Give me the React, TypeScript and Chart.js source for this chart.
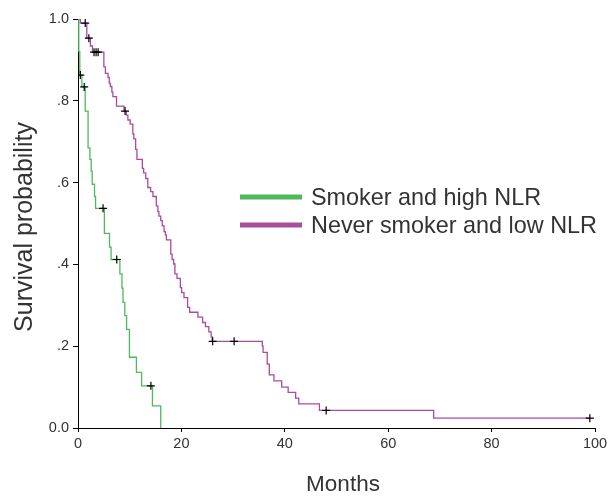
import React, { useEffect, useRef } from "react";
import { Chart, registerables } from "chart.js";

Chart.register(...registerables);

// Kaplan-Meier step data: time (months) at which survival drops to value
const smokerTimes = [0, 0.15, 0.35, 0.75, 1.4, 1.95, 2.3, 2.55, 2.75, 3.2, 3.4, 5.1, 6.1, 6.4, 8.1, 8.5, 8.7, 9.05, 9.4, 9.95, 11.3, 12.3, 14.4, 16.0];
const smokerSurv = [1, 0.92, 0.863, 0.834, 0.775, 0.685, 0.657, 0.628, 0.596, 0.566, 0.537, 0.476, 0.442, 0.412, 0.377, 0.342, 0.307, 0.275, 0.241, 0.173, 0.136, 0.103, 0.054, 0];
const smokerCensorTimes = [0.45, 1.2, 4.85, 7.5, 14.1];
const smokerCensorSurv = [0.863, 0.834, 0.537, 0.412, 0.103];

const neverTimes = [0, 0.45, 1.7, 2.4, 2.8, 5.0, 5.3, 5.8, 6.05, 6.25, 6.55, 6.75, 7.45, 8.9, 9.35, 9.65, 10.1, 10.6, 10.8, 11.15, 11.4, 12.45, 12.7, 13.1, 13.5, 14.05, 14.5, 15.15, 15.45, 15.65, 16.0, 16.3, 16.65, 16.9, 17.1, 17.95, 18.2, 18.5, 18.75, 19.15, 19.8, 20.05, 20.5, 21.2, 21.6, 23.2, 24.1, 24.65, 25.3, 25.75, 25.95, 35.65, 35.8, 36.6, 37.0, 37.9, 39.4, 40.65, 42.1, 42.7, 46.7, 68.8, 99.1];
const neverSurv = [1, 0.99, 0.953, 0.934, 0.919, 0.883, 0.867, 0.857, 0.843, 0.835, 0.821, 0.81, 0.787, 0.775, 0.765, 0.753, 0.743, 0.719, 0.707, 0.681, 0.657, 0.635, 0.624, 0.61, 0.588, 0.578, 0.566, 0.543, 0.529, 0.518, 0.507, 0.494, 0.48, 0.472, 0.46, 0.425, 0.412, 0.401, 0.377, 0.366, 0.343, 0.331, 0.319, 0.295, 0.283, 0.271, 0.258, 0.248, 0.235, 0.223, 0.212, 0.2, 0.185, 0.156, 0.13, 0.115, 0.1, 0.087, 0.073, 0.059, 0.043, 0.024, 0.024];
const neverCensorTimes = [1.4, 2.1, 3.1, 3.5, 3.9, 9.1, 26.05, 30.2, 48.0, 99.0];
const neverCensorSurv = [0.99, 0.953, 0.919, 0.919, 0.919, 0.775, 0.212, 0.212, 0.043, 0.024];

const seriesLabels = ["Smoker and high NLR", "Never smoker and low NLR"];
const seriesColors = ["rgb(80,185,92)", "rgb(168,76,157)"];

const xTicks = [0, 20, 40, 60, 80, 100];
const yTicks = [0, 0.2, 0.4, 0.6, 0.8, 1];
const yTickLabels = ["0.0", ".2", ".4", ".6", ".8", "1.0"];
const xTitle = "Months";
const yTitle = "Survival probability";

const FONT = "'Liberation Sans', Arial, sans-serif";
const TEXT = "#333333";

const toPoints = (xs: number[], ys: number[]) => xs.map((x, i) => ({ x, y: ys[i] }));

const annotationsPlugin = {
  id: "insideLegendAndTitles",
  afterDraw(chart: any) {
    const ctx = chart.ctx;
    ctx.save();
    const rows = [
      { y: 197, base: 204.5 },
      { y: 225, base: 232.5 },
    ];
    rows.forEach((r, i) => {
      ctx.strokeStyle = seriesColors[i];
      ctx.lineWidth = 5;
      ctx.beginPath();
      ctx.moveTo(240, r.y);
      ctx.lineTo(302, r.y);
      ctx.stroke();
      ctx.fillStyle = TEXT;
      ctx.font = `23.4px ${FONT}`;
      ctx.textAlign = "left";
      ctx.textBaseline = "alphabetic";
      ctx.fillText(seriesLabels[i], 311, r.base);
    });
    // axis titles
    ctx.fillStyle = TEXT;
    ctx.font = `22.5px ${FONT}`;
    ctx.textAlign = "center";
    ctx.textBaseline = "alphabetic";
    ctx.fillText(xTitle, 343, 491);
    ctx.translate(31.5, 227);
    ctx.rotate(-Math.PI / 2);
    ctx.font = `25px ${FONT}`;
    ctx.fillText(yTitle, 0, 0);
    ctx.restore();
  },
};

export default function App() {
  const ref = useRef<HTMLCanvasElement>(null);
  useEffect(() => {
    if (!ref.current) return;
    const chart = new Chart(ref.current, {
      type: "line",
      data: {
        datasets: [
          {
            type: "scatter",
            label: "smoker censored",
            data: toPoints(smokerCensorTimes, smokerCensorSurv),
            pointStyle: "cross",
            pointRadius: 4,
            borderColor: "#000",
            backgroundColor: "#000",
            borderWidth: 1.2,
            showLine: false,
            order: 0,
          } as any,
          {
            type: "scatter",
            label: "never censored",
            data: toPoints(neverCensorTimes, neverCensorSurv),
            pointStyle: "cross",
            pointRadius: 4,
            borderColor: "#000",
            backgroundColor: "#000",
            borderWidth: 1.2,
            showLine: false,
            order: 0,
          } as any,
          {
            label: seriesLabels[0],
            data: toPoints(smokerTimes, smokerSurv),
            borderColor: seriesColors[0],
            borderWidth: 1.3,
            stepped: "before",
            pointRadius: 0,
            fill: false,
            order: 1,
          },
          {
            label: seriesLabels[1],
            data: toPoints(neverTimes, neverSurv),
            borderColor: seriesColors[1],
            borderWidth: 1.3,
            stepped: "before",
            pointRadius: 0,
            fill: false,
            order: 2,
          },
        ],
      },
      options: {
        animation: false,
        responsive: false,
        devicePixelRatio: 1,
        layout: { padding: { top: 19, right: 17, left: 0, bottom: 0 } },
        plugins: { legend: { display: false }, tooltip: { enabled: false } },
        scales: {
          x: {
            type: "linear",
            min: 0,
            max: 100,
            afterBuildTicks: (s: any) => {
              s.ticks = xTicks.map((v) => ({ value: v }));
            },
            afterFit: (s: any) => {
              s.height = 71;
            },
            grid: { display: true, drawOnChartArea: false, drawTicks: true, tickLength: 4, color: "#000", tickColor: "#000" },
            border: { display: true, color: "#000", width: 1 },
            ticks: { color: TEXT, font: { family: FONT, size: 14.5 }, padding: 3, maxRotation: 0 },
            title: { display: false },
          },
          y: {
            type: "linear",
            min: 0,
            max: 1,
            afterBuildTicks: (s: any) => {
              s.ticks = yTicks.map((v) => ({ value: v }));
            },
            afterFit: (s: any) => {
              s.width = 78;
            },
            grid: { display: true, drawOnChartArea: false, drawTicks: true, tickLength: 5, color: "#000", tickColor: "#000" },
            border: { display: true, color: "#000", width: 1 },
            ticks: {
              color: TEXT,
              font: { family: FONT, size: 14.5 },
              padding: 4,
              callback: (v: any) => {
                const i = yTicks.findIndex((t) => Math.abs(t - Number(v)) < 1e-6);
                return i >= 0 ? yTickLabels[i] : "";
              },
            },
            title: { display: false },
          },
        },
      } as any,
      plugins: [annotationsPlugin],
    });
    return () => chart.destroy();
  }, []);
  return (
    <div style={{ position: "absolute", left: 0, top: 0, width: 612, height: 499, background: "#fff" }}>
      <canvas ref={ref} width={612} height={499} style={{ display: "block" }} />
    </div>
  );
}
